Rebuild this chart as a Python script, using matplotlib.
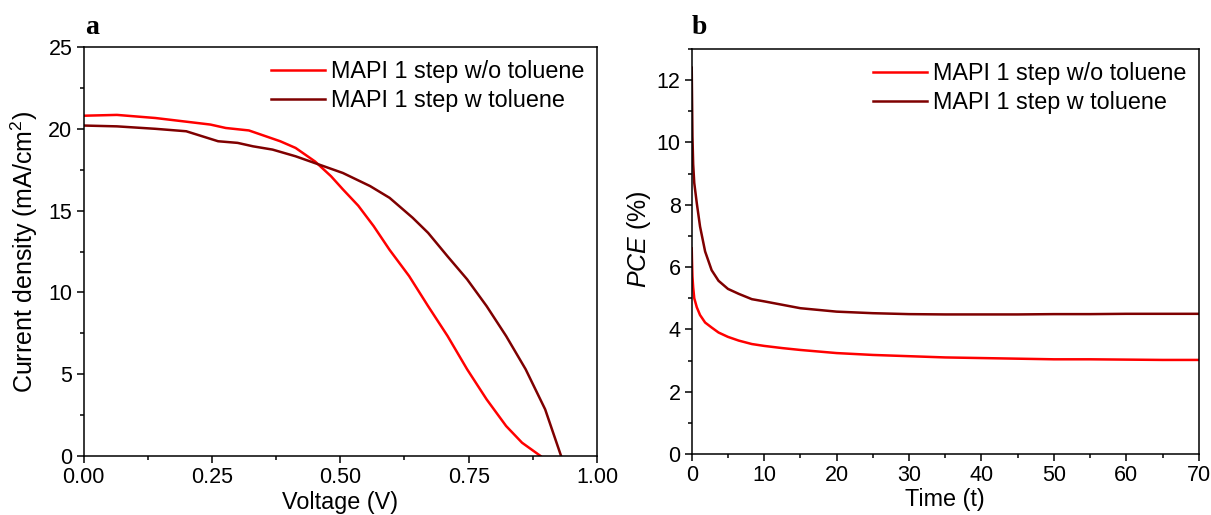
import matplotlib
matplotlib.use("Agg")
import matplotlib.pyplot as plt
from matplotlib.ticker import MultipleLocator, FormatStrFormatter

plt.rcParams['font.family'] = ['Liberation Sans', 'DejaVu Sans']
plt.rcParams['mathtext.fontset'] = 'custom'
plt.rcParams['mathtext.rm'] = 'Liberation Sans'
plt.rcParams['mathtext.it'] = 'Liberation Sans:italic'

# J-V curves
voltage_wo = [0.0, 0.065, 0.14, 0.247, 0.277, 0.322, 0.383, 0.413, 0.451, 0.482,
              0.505, 0.535, 0.565, 0.596, 0.634, 0.671, 0.709, 0.747, 0.785,
              0.823, 0.854, 0.89]
current_wo = [20.8, 20.85, 20.66, 20.26, 20.05, 19.9, 19.24, 18.83, 18.0, 17.1,
              16.3, 15.3, 14.05, 12.6, 11.0, 9.16, 7.33, 5.3, 3.46,
              1.83, 0.81, 0.0]
voltage_w = [0.0, 0.065, 0.14, 0.2, 0.262, 0.3, 0.33, 0.368, 0.413, 0.451,
             0.505, 0.558, 0.596, 0.641, 0.671, 0.709, 0.747, 0.785, 0.823,
             0.861, 0.899, 0.93]
current_w = [20.2, 20.15, 20.0, 19.85, 19.24, 19.14, 18.93, 18.73, 18.32, 17.9,
             17.3, 16.5, 15.78, 14.56, 13.64, 12.2, 10.8, 9.16, 7.33,
             5.3, 2.85, 0.0]

# PCE stability over time
time_t = [0, 0.05, 0.1, 0.2, 0.35, 0.7, 1.15, 1.85, 2.75, 3.7, 5.0, 6.5, 8.3,
          10, 12.5, 15, 20, 25, 30, 35, 40, 45, 50, 55, 60, 65, 70]
pce_wo = [6.6, 6.1, 5.7, 5.35, 5.0, 4.71, 4.46, 4.22, 4.06, 3.9, 3.76, 3.64,
          3.53, 3.47, 3.4, 3.34, 3.24, 3.18, 3.14, 3.1, 3.08, 3.06, 3.04,
          3.04, 3.03, 3.02, 3.02]
pce_w = [12.4, 11.3, 10.2, 9.3, 8.7, 8.05, 7.3, 6.5, 5.9, 5.56, 5.3, 5.14,
         4.97, 4.9, 4.79, 4.68, 4.57, 4.52, 4.49, 4.48, 4.48, 4.48, 4.49,
         4.49, 4.5, 4.5, 4.5]

labels = ["MAPI 1 step w/o toluene", "MAPI 1 step w toluene"]
colors = ["#ff0000", "#7f0000"]

fig = plt.figure(figsize=(12.11, 5.15), dpi=100)
ax1 = fig.add_axes([0.0690, 0.1146, 0.4240, 0.7941])
ax2 = fig.add_axes([0.5712, 0.1184, 0.4187, 0.7865])

tick_fs = 15.5
label_fs = 16.8


def style(ax):
    for sp in ax.spines.values():
        sp.set_linewidth(1.1)
    ax.tick_params(which='both', direction='out', top=False, right=False,
                   labelsize=tick_fs, width=1.1)
    ax.tick_params(which='major', length=5, pad=3.0)
    ax.tick_params(which='minor', length=3)


def add_legend(ax):
    ax.legend(loc='upper right', bbox_to_anchor=(1.0, 1.0), frameon=False,
              fontsize=label_fs, handlelength=2.3, handletextpad=0.25,
              labelspacing=0.28, borderaxespad=0.15)


ax1.plot(voltage_wo, current_wo, color=colors[0], lw=1.8, label=labels[0])
ax1.plot(voltage_w, current_w, color=colors[1], lw=1.8, label=labels[1])
ax1.set_xlim(0, 1.0)
ax1.set_ylim(0, 25)
ax1.xaxis.set_major_locator(MultipleLocator(0.25))
ax1.xaxis.set_minor_locator(MultipleLocator(0.125))
ax1.xaxis.set_major_formatter(FormatStrFormatter('%.2f'))
ax1.yaxis.set_major_locator(MultipleLocator(5))
ax1.yaxis.set_minor_locator(MultipleLocator(2.5))
style(ax1)
ax1.set_xlabel("Voltage (V)", fontsize=label_fs)
ax1.set_ylabel("Current density (mA/cm$^2$)", fontsize=18)
ax1.xaxis.set_label_coords(0.5, -0.085)
ax1.yaxis.set_label_coords(-0.085, 0.5)
add_legend(ax1)

ax2.plot(time_t, pce_wo, color=colors[0], lw=1.8, label=labels[0])
ax2.plot(time_t, pce_w, color=colors[1], lw=1.8, label=labels[1])
ax2.set_xlim(0, 70)
ax2.set_ylim(0, 13)
ax2.xaxis.set_major_locator(MultipleLocator(10))
ax2.xaxis.set_minor_locator(MultipleLocator(5))
ax2.yaxis.set_major_locator(MultipleLocator(2))
ax2.yaxis.set_minor_locator(MultipleLocator(1))
style(ax2)
ax2.set_xlabel("Time (t)", fontsize=label_fs)
ax2.set_ylabel("$PCE$ (%)", fontsize=18)
ax2.xaxis.set_label_coords(0.5, -0.085)
ax2.yaxis.set_label_coords(-0.077, 0.53)
add_legend(ax2)

fig.text(0.0700, 1 - 34 / 515, "a", fontsize=20, fontweight='bold',
         family='Liberation Serif', va='baseline')
fig.text(0.5714, 1 - 34 / 515, "b", fontsize=20, fontweight='bold',
         family='Liberation Serif', va='baseline')

fig.savefig("out.png", dpi=100)
